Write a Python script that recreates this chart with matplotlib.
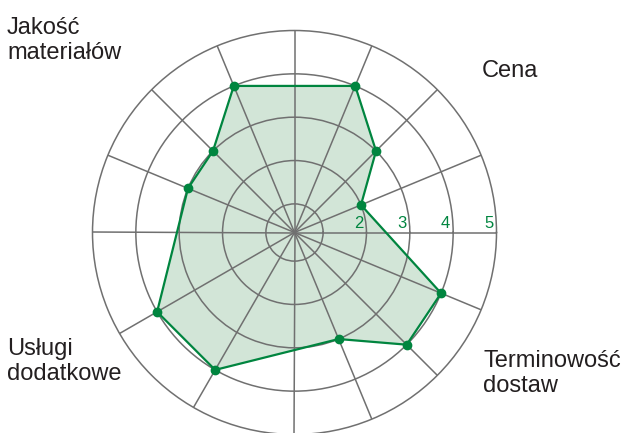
import numpy as np
import matplotlib
matplotlib.use("Agg")
import matplotlib.pyplot as plt
from matplotlib.transforms import offset_copy

plt.rcParams['font.family'] = ['Liberation Sans', 'DejaVu Sans']

# --- data ---
spoke_angles = [0, 22.5, 45, 67.5, 90, 112.5, 135, 157.5, 180, 210, 240, 270, 292.5, 315, 337.5]
point_angles = [22.5, 45, 67.5, 112.5, 135, 157.5, 210, 240, 292.5, 315, 337.5]
point_values = [2, 3, 4, 4, 3, 3, 4, 4, 3, 4, 4]
ring_values = [1, 2, 3, 4]
ring_labels = ['2', '3', '4', '5']
ring_label_values = [2, 3, 4, 5]
group_labels = ['Jakość\nmateriałów', 'Cena', 'Terminowość\ndostaw', 'Usługi\ndodatkowe']

GREEN = '#00853F'
FILL = '#D2E5D7'
GRID = '#707070'
TEXT = '#231F20'

W, H = 625, 433
fig = plt.figure(figsize=(W / 100, H / 100), dpi=100)
cx, cy, R = 294.5, 232.5, 202
ax = fig.add_axes([(cx - R) / W, (H - cy - R) / H, 2 * R / W, 2 * R / H], projection='polar')
ax.set_facecolor('none')
ax.set_ylim(0.34, 5)
ax.set_thetagrids(spoke_angles, labels=[''] * len(spoke_angles))
ax.set_rgrids(ring_values, labels=[''] * len(ring_values))
ax.grid(True, color=GRID, linewidth=1.1)
ax.spines['polar'].set_color(GRID)
ax.spines['polar'].set_linewidth(1.1)
ax.tick_params(length=0)

th = np.deg2rad(point_angles)
thc = np.append(th, th[0])
vc = np.append(point_values, point_values[0])
ax.fill(thc, vc, color=FILL, linewidth=0, zorder=1)
ax.plot(thc, vc, color=GREEN, linewidth=1.6, zorder=3)
ax.plot(th, point_values, 'o', color=GREEN, markersize=6, zorder=4)

trans = offset_copy(ax.transData, fig=fig, x=-7.5, y=8.5, units='dots')
for lab, v in zip(ring_labels, ring_label_values):
    ax.text(0, v, lab, transform=trans, ha='center', va='center',
            color=GREEN, fontsize=12)

def ftext(x, y, s):
    # y = baseline of the last line (pixels from top)
    fig.text(x / W, 1 - y / H, s, ha='left', va='baseline', fontsize=17,
             color=TEXT, linespacing=1.2)

ftext(7, 59, group_labels[0])
ftext(482, 77, group_labels[1])
ftext(483, 392, group_labels[2])
ftext(7, 380, group_labels[3])

fig.savefig('out.png', dpi=100)
